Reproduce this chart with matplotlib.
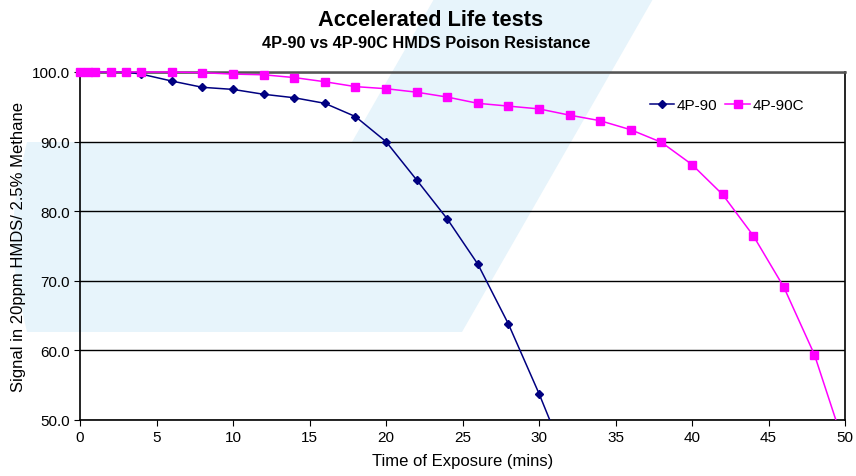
import matplotlib.pyplot as plt
from matplotlib.patches import Polygon, Rectangle
import numpy as np

plt.rcParams['font.family'] = ['Liberation Sans', 'DejaVu Sans']

# exposure times (mins) and signal (%)
time_90 = [0, 0.5, 1, 2, 3, 4, 6, 8, 10, 12, 14, 16, 18, 20, 22, 24, 26, 28, 30, 32]
signal_90 = [100, 100, 100, 100, 100, 99.7, 98.7, 97.8, 97.5, 96.8, 96.3, 95.5,
             93.6, 90.0, 84.5, 78.9, 72.4, 63.8, 53.8, 43.0]

time_90c = [0, 0.5, 1, 2, 3, 4, 6, 8, 10, 12, 14, 16, 18, 20, 22, 24, 26, 28,
            30, 32, 34, 36, 38, 40, 42, 44, 46, 48, 50]
signal_90c = [100, 100, 100, 100, 100, 100, 100, 99.9, 99.7, 99.6, 99.2, 98.6,
              97.9, 97.6, 97.1, 96.4, 95.5, 95.1, 94.7, 93.8, 93.0, 91.7, 89.9,
              86.7, 82.4, 76.5, 69.1, 59.4, 46.0]

W, H = 856, 477
fig = plt.figure(figsize=(W / 100, H / 100), dpi=100)

# background axes for the light blue watermark logo (pixels, y from top)
bg = fig.add_axes([0, 0, 1, 1], zorder=-1)
bg.set_xlim(0, W)
bg.set_ylim(H, 0)
bg.axis('off')

blue = '#e7f4fb'
band = [(434, 0), (653, 0), (462, 333), (243, 333)]
bg.add_patch(Polygon(band, closed=True, facecolor=blue, edgecolor='none'))
ys = np.linspace(143, 333, 30)
left_edge = [(27 - 14 * np.sin(np.pi * (y - 143) / 190), y) for y in ys]
block = [(352, 143)] + left_edge + [(300, 333)]
bg.add_patch(Polygon(block, closed=True, facecolor=blue, edgecolor='none'))

ax = fig.add_axes([80 / W, 1 - 421 / H, 765 / W, 348 / H])
ax.patch.set_alpha(0)

l1, = ax.plot(time_90, signal_90, color='#000080', marker='D', markersize=4.3,
              linewidth=1.1, label='4P-90', zorder=3)
l2, = ax.plot(time_90c, signal_90c, color='#ff00ff', marker='s', markersize=5.5,
              linewidth=1.1, label='4P-90C', zorder=3)
# clip only at the bottom/right, so the markers sitting on 100 stay whole
clip = Rectangle((-0.02, 0), 1.04, 1.05, transform=ax.transAxes)
for ln in (l1, l2):
    ln.set_clip_path(clip)

ax.set_xlim(0, 50)
ax.set_ylim(50, 100)
ax.set_xticks(range(0, 51, 5))
ax.set_yticks(range(50, 101, 10))
ax.set_yticklabels([f'{v:.1f}' for v in range(50, 101, 10)])
ax.yaxis.grid(True, color='black', linewidth=1)
ax.set_axisbelow(True)
ax.tick_params(direction='out', length=4, labelsize=11, color='black')
for s in ax.spines.values():
    s.set_color('black')
    s.set_linewidth(1.2)
ax.spines['top'].set_color('#555555')
ax.spines['top'].set_linewidth(1.8)

ax.set_xlabel('Time of Exposure (mins)', fontsize=12, labelpad=6)
ax.set_ylabel('Signal in 20ppm HMDS/ 2.5% Methane', fontsize=12, labelpad=4)

fig.text(431 / W, 1 - 20 / H, 'Accelerated Life tests', ha='center', va='center',
         fontsize=15.7, fontweight='bold')
fig.text(426 / W, 1 - 43 / H, '4P-90 vs 4P-90C HMDS Poison Resistance', ha='center',
         va='center', fontsize=11.8, fontweight='bold')

ax.legend(loc='upper right', bbox_to_anchor=(0.965, 0.965), ncol=2, frameon=False,
          fontsize=11, handlelength=1.6, handletextpad=0.2, columnspacing=0.5)

fig.savefig('out.png', dpi=100)
